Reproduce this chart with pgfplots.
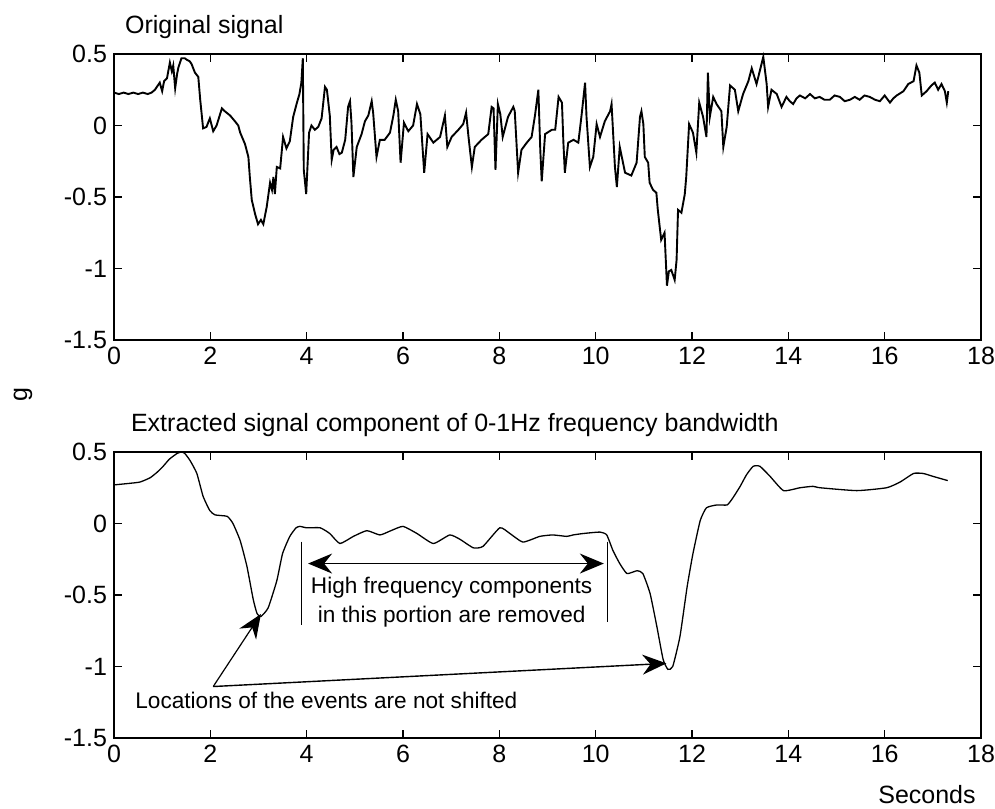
\documentclass[border=0pt]{standalone}
\usepackage{fontspec}
\setmainfont{Liberation Sans}
\usepackage{pgfplots}
\pgfplotsset{compat=1.18}
\usetikzlibrary{arrows.meta}
\pgfplotsset{myax/.style={scale only axis, width=433.5pt, height=143pt,
  xmin=0, xmax=18, ymin=-1.5, ymax=0.5,
  xtick={0,2,4,6,8,10,12,14,16,18}, xticklabels={0,2,4,6,8,10,12,14,16,18},
  ytick={-1.5,-1,-0.5,0,0.5}, yticklabels={-1.5,-1,-0.5,0,0.5},
  tick align=inside, major tick length=4pt,
  tick style={black, line width=0.6pt},
  axis line style={black, line width=0.7pt},
  ticklabel style={font=\fontsize{12.5}{14}\selectfont},
  anchor=south west, clip=false}}
\begin{document}
\begin{tikzpicture}
\useasboundingbox (0pt,0pt) rectangle (497.5pt,-404pt);
\begin{axis}[myax, at={(57pt,-170pt)}]
\addplot[black, line width=0.95pt, mark=none] coordinates {
(0.00,0.23) (0.10,0.22) (0.20,0.23) (0.30,0.22) (0.40,0.23) (0.50,0.22) (0.60,0.23) (0.70,0.22)
(0.78,0.23) (0.85,0.25) (0.89,0.27) (0.95,0.30) (1.00,0.24) (1.04,0.31) (1.10,0.33) (1.16,0.44)
(1.20,0.38) (1.23,0.42) (1.27,0.26) (1.31,0.36) (1.34,0.41) (1.40,0.47) (1.47,0.47) (1.51,0.46)
(1.57,0.45) (1.61,0.43) (1.68,0.37) (1.75,0.34) (1.79,0.18) (1.85,-0.02) (1.92,-0.01) (1.99,0.05)
(2.06,-0.04) (2.13,0.00) (2.24,0.12) (2.30,0.10) (2.41,0.07) (2.51,0.03) (2.58,0.00) (2.62,-0.05)
(2.72,-0.13) (2.79,-0.22) (2.82,-0.36) (2.86,-0.52) (2.93,-0.62) (2.99,-0.69) (3.05,-0.66) (3.10,-0.69)
(3.17,-0.57) (3.24,-0.40) (3.28,-0.45) (3.31,-0.36) (3.34,-0.48) (3.38,-0.29) (3.45,-0.30) (3.51,-0.08)
(3.58,-0.16) (3.65,-0.11) (3.72,0.06) (3.79,0.15) (3.85,0.22) (3.89,0.30) (3.92,0.47) (3.94,-0.31)
(3.99,-0.48) (4.05,-0.05) (4.10,0.00) (4.17,-0.03) (4.24,-0.01) (4.31,0.05) (4.38,0.27) (4.42,0.25)
(4.48,0.07) (4.52,-0.24) (4.56,-0.17) (4.62,-0.15) (4.68,-0.20) (4.73,-0.19) (4.80,-0.10) (4.86,0.13)
(4.90,0.17) (4.93,0.02) (4.97,-0.36) (5.04,-0.15) (5.14,-0.06) (5.21,0.03) (5.28,0.07) (5.35,0.17)
(5.38,0.09) (5.45,-0.22) (5.52,-0.10) (5.62,-0.10) (5.73,-0.05) (5.80,0.07) (5.85,0.18) (5.90,0.10)
(5.95,-0.26) (6.02,0.02) (6.11,-0.04) (6.21,0.00) (6.29,0.15) (6.36,0.08) (6.44,-0.33) (6.51,-0.06)
(6.63,-0.12) (6.77,-0.08) (6.87,0.07) (6.92,-0.15) (7.01,-0.08) (7.15,-0.03) (7.25,0.01) (7.31,0.09)
(7.36,-0.08) (7.43,-0.29) (7.49,-0.15) (7.63,-0.10) (7.77,-0.06) (7.84,0.13) (7.88,0.12) (7.92,-0.31)
(7.97,0.15) (8.02,0.08) (8.07,-0.08) (8.18,0.06) (8.29,0.13) (8.32,0.10) (8.39,-0.33) (8.46,-0.17)
(8.57,-0.12) (8.67,-0.08) (8.74,0.07) (8.81,0.25) (8.85,-0.17) (8.88,-0.39) (8.95,-0.06) (9.09,-0.03)
(9.16,-0.03) (9.23,0.20) (9.30,0.16) (9.33,-0.12) (9.36,-0.33) (9.43,-0.12) (9.54,-0.10) (9.64,-0.12)
(9.71,0.08) (9.78,0.30) (9.81,0.06) (9.88,-0.29) (9.95,-0.22) (10.02,0.01) (10.09,-0.08) (10.19,0.03)
(10.30,0.10) (10.33,0.15) (10.40,-0.29) (10.44,-0.43) (10.50,-0.15) (10.61,-0.33) (10.74,-0.35) (10.85,-0.26)
(10.92,0.06) (10.95,0.10) (10.99,0.01) (11.02,-0.22) (11.09,-0.26) (11.12,-0.40) (11.19,-0.45) (11.26,-0.47)
(11.29,-0.59) (11.36,-0.80) (11.43,-0.75) (11.48,-1.12) (11.52,-1.02) (11.57,-1.01) (11.64,-1.08) (11.68,-0.94)
(11.71,-0.59) (11.78,-0.61) (11.85,-0.48) (11.88,-0.36) (11.94,0.01) (12.02,-0.05) (12.09,-0.19) (12.15,0.16)
(12.23,0.06) (12.30,-0.08) (12.33,0.37) (12.37,0.06) (12.44,0.20) (12.51,0.15) (12.61,0.10) (12.65,-0.15)
(12.72,-0.01) (12.79,0.28) (12.89,0.25) (12.96,0.10) (13.06,0.22) (13.17,0.31) (13.24,0.40) (13.34,0.29)
(13.48,0.48) (13.55,0.29) (13.58,0.13) (13.65,0.25) (13.76,0.22) (13.86,0.13) (13.96,0.20) (14.03,0.17)
(14.10,0.15) (14.17,0.19) (14.24,0.21) (14.35,0.19) (14.45,0.22) (14.55,0.19) (14.65,0.20) (14.75,0.18)
(14.86,0.18) (14.96,0.21) (15.07,0.20) (15.17,0.17) (15.28,0.18) (15.38,0.20) (15.48,0.18) (15.58,0.21)
(15.69,0.20) (15.80,0.18) (15.90,0.17) (16.00,0.21) (16.11,0.16) (16.18,0.19) (16.25,0.21) (16.39,0.24)
(16.49,0.29) (16.60,0.31) (16.66,0.42) (16.72,0.37) (16.77,0.21) (16.87,0.24) (16.97,0.28) (17.04,0.30)
(17.11,0.25) (17.18,0.29) (17.25,0.24) (17.29,0.16) (17.32,0.24)
};
\node[anchor=base west, font=\fontsize{12.5}{14}\selectfont, xshift=2pt, yshift=10.2pt] at (rel axis cs:0,1) {Original signal};
\end{axis}
\begin{axis}[myax, at={(57pt,-369pt)}]
\addplot[black, line width=0.65pt, mark=none, smooth, tension=0.3] coordinates {
(0.00,0.27) (0.30,0.28) (0.54,0.29) (0.75,0.32) (0.90,0.36) (1.02,0.40) (1.15,0.45) (1.31,0.49)
(1.40,0.50) (1.47,0.49) (1.58,0.44) (1.72,0.35) (1.85,0.19) (1.99,0.09) (2.10,0.06) (2.35,0.05)
(2.47,0.00) (2.62,-0.12) (2.76,-0.30) (2.89,-0.53) (2.97,-0.63) (3.05,-0.65) (3.20,-0.59) (3.38,-0.40)
(3.50,-0.21) (3.65,-0.09) (3.78,-0.03) (3.86,-0.02) (4.00,-0.03) (4.28,-0.03) (4.48,-0.07) (4.69,-0.14)
(4.97,-0.09) (5.25,-0.05) (5.52,-0.08) (5.75,-0.05) (6.00,-0.02) (6.29,-0.07) (6.63,-0.14) (6.97,-0.08)
(7.18,-0.11) (7.46,-0.17) (7.66,-0.16) (8.01,-0.03) (8.22,-0.07) (8.49,-0.13) (8.84,-0.09) (9.11,-0.08)
(9.40,-0.09) (9.53,-0.08) (9.74,-0.07) (10.09,-0.06) (10.23,-0.08) (10.36,-0.19) (10.50,-0.28) (10.65,-0.35)
(10.86,-0.33) (10.98,-0.35) (11.13,-0.49) (11.27,-0.72) (11.40,-0.95) (11.50,-1.02) (11.60,-1.00) (11.75,-0.79)
(11.90,-0.44) (12.02,-0.21) (12.17,0.02) (12.30,0.11) (12.52,0.13) (12.73,0.13) (12.85,0.18) (13.00,0.26)
(13.13,0.34) (13.27,0.40) (13.41,0.40) (13.62,0.33) (13.90,0.23) (14.24,0.25) (14.51,0.26) (14.66,0.25)
(15.42,0.23) (16.04,0.25) (16.32,0.29) (16.60,0.35) (16.80,0.35) (17.00,0.33) (17.31,0.30)
};
\node[anchor=base west, font=\fontsize{12.5}{14}\selectfont, xshift=5pt, yshift=10.2pt] at (rel axis cs:0,1) {Extracted signal component of 0-1Hz frequency bandwidth};
\draw[black, line width=0.6pt] (axis cs:3.90,-0.127) -- (axis cs:3.90,-0.71);
\draw[black, line width=0.6pt] (axis cs:10.24,-0.127) -- (axis cs:10.24,-0.69);
\draw[black, line width=0.7pt, {Stealth[length=12pt,width=10pt,inset=4pt]}-{Stealth[length=12pt,width=10pt,inset=4pt]}] (axis cs:4.03,-0.28) -- (axis cs:10.17,-0.28);
\node[font=\fontsize{11.3}{13}\selectfont] at (axis cs:7.01,-0.451) {High frequency components};
\node[font=\fontsize{11.3}{13}\selectfont] at (axis cs:7.01,-0.652) {in this portion are removed};
\draw[black, line width=0.6pt, -{Stealth[length=12pt,width=10pt,inset=4pt]}] (axis cs:2.06,-1.14) -- (axis cs:3.05,-0.633);
\draw[black, line width=0.7pt, -{Stealth[length=12pt,width=10pt,inset=4pt]}] (axis cs:2.06,-1.14) -- (axis cs:11.47,-0.978);
\node[anchor=west, font=\fontsize{11.3}{13}\selectfont, inner sep=0pt] at (axis cs:0.436,-1.234) {Locations of the events are not shifted};
\end{axis}
\node[rotate=90, font=\fontsize{12.5}{14}\selectfont] at (11.5pt,-197.5pt) {g};
\node[font=\fontsize{12.5}{14}\selectfont] at (463.5pt,-397.5pt) {Seconds};
\end{tikzpicture}
\end{document}
